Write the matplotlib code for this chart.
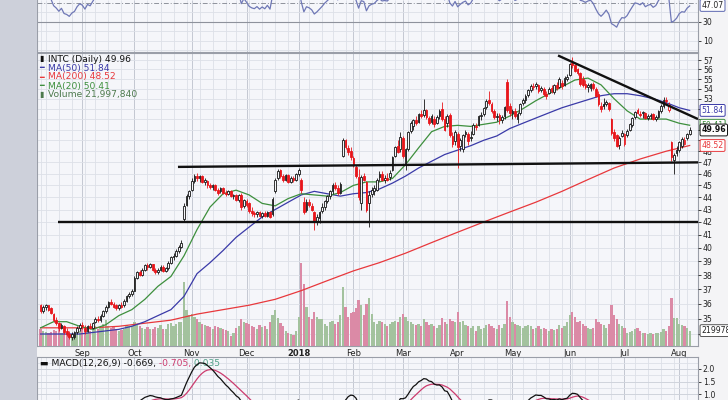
import numpy as np
import pandas as pd
import matplotlib
matplotlib.use("Agg")
import matplotlib.pyplot as plt
from matplotlib.transforms import blended_transform_factory as blend

# ---------------- DATA ----------------
holidays = ["2017-09-04", "2017-11-23", "2017-12-25", "2018-01-01", "2018-01-15",
            "2018-02-19", "2018-03-30", "2018-05-28", "2018-07-04"]
first_day, last_day = "2017-08-10", "2018-08-07"

opens = [
    # Aug 2017
    35.9, 35.5, 35.8, 35.9, 35.7, 35.3, 34.9, 34.7, 34.4, 34.5, 34.2, 34.0, 33.8, 33.8, 34.1, 34.4,
    # Sep
    34.6, 34.4, 34.2, 34.5, 34.4, 34.8, 35.0, 34.9, 35.2, 35.5, 35.8, 36.1, 36.0, 35.9, 35.7, 35.9, 35.9, 36.2, 36.5, 36.7,
    # Oct
    36.9, 37.8, 38.2, 38.0, 38.4, 38.7, 38.6, 38.8, 38.4, 38.2, 38.4, 38.6, 38.3, 38.5, 38.9, 39.3, 39.4, 39.8, 40.1, 42.2, 43.4, 44.1,
    # Nov
    44.6, 45.4, 45.8, 45.6, 45.8, 45.3, 45.4, 45.0, 44.9, 45.0, 44.6, 44.5, 44.8, 44.4, 44.3, 44.5, 44.1, 44.2, 43.8, 44.2, 43.3,
    # Dec
    43.7, 43.5, 42.9, 42.7, 42.6, 42.8, 42.5, 42.7, 42.5, 42.8, 42.6, 44.5, 45.6, 46.3, 45.8, 45.5, 45.9, 45.3, 45.6, 45.5,
    # Jan 2018
    46.0, 45.5, 43.6, 43.0, 43.6, 43.3, 42.8, 42.0, 42.3, 42.9, 43.2, 43.7, 44.1, 44.5, 45.0, 44.8, 44.4, 47.6, 49.0, 48.3, 48.0,
    # Feb
    47.4, 46.6, 45.7, 43.5, 45.8, 45.3, 43.5, 44.3, 44.5, 44.6, 45.7, 46.0, 45.5, 45.6, 45.7, 46.3, 47.6, 48.5, 48.2,
    # Mar
    49.2, 46.9, 48.2, 49.9, 50.3, 50.9, 50.7, 51.5, 51.4, 51.9, 51.1, 50.7, 51.0, 50.6, 51.3, 52.0, 51.0, 50.6, 51.4, 49.4, 48.9,
    # Apr
    49.6, 48.5, 48.2, 49.6, 49.6, 49.2, 49.6, 50.3, 50.4, 51.3, 51.5, 52.2, 52.9, 52.5, 51.8, 51.2, 51.4, 50.9, 51.3, 54.7, 52.3,
    # May
    51.6, 51.8, 51.0, 51.6, 52.6, 52.9, 53.4, 53.9, 54.2, 54.3, 54.4, 53.9, 54.0, 53.5, 53.6, 54.1, 53.7, 54.4, 54.2, 54.6, 54.4, 55.0,
    # Jun
    55.4, 56.7, 56.5, 56.0, 55.6, 55.0, 54.5, 54.2, 54.1, 54.5, 54.0, 53.5, 52.3, 52.5, 52.5, 52.6, 51.0, 49.8, 49.5, 48.6, 49.4,
    # Jul
    48.7, 49.5, 50.0, 50.4, 51.2, 51.9, 51.5, 51.6, 51.6, 51.1, 51.3, 51.5, 51.0, 51.2, 51.8, 52.3, 52.9, 51.9, 48.8, 47.2, 47.8,
    # Aug 2018
    48.1, 48.5, 48.7, 49.2, 49.6,
]
highs = [
    36.0, 35.9, 36.0, 35.9, 35.8, 35.4, 35.1, 34.8, 34.7, 34.6, 34.4, 34.2, 34.1, 34.2, 34.5, 34.7,
    34.8, 34.6, 34.6, 34.7, 34.8, 35.1, 35.2, 35.3, 35.6, 35.9, 36.2, 36.3, 36.1, 36.0, 36.0, 36.1, 36.3, 36.6, 36.8, 37.0,
    37.9, 38.3, 38.4, 38.5, 38.8, 38.9, 38.9, 38.8, 38.5, 38.5, 38.7, 38.7, 38.6, 39.0, 39.4, 39.6, 39.9, 40.2, 40.6, 43.5, 44.3, 44.6,
    45.6, 46.0, 46.1, 45.9, 45.9, 45.6, 45.5, 45.2, 45.1, 45.1, 44.8, 44.9, 44.9, 44.6, 44.6, 44.6, 44.3, 44.3, 44.3, 44.4, 43.9,
    43.9, 43.6, 43.2, 42.9, 42.9, 42.9, 42.8, 42.9, 42.9, 42.9, 44.0, 45.6, 46.4, 46.4, 46.0, 46.0, 46.0, 45.8, 45.8, 46.1,
    46.5, 45.6, 44.0, 43.9, 43.9, 43.5, 42.9, 42.6, 42.9, 43.5, 43.8, 44.2, 44.6, 45.2, 45.3, 45.0, 45.3, 49.2, 49.1, 48.6, 48.4,
    47.6, 46.8, 46.4, 45.9, 46.1, 45.4, 44.5, 44.9, 45.0, 45.6, 46.2, 46.2, 45.9, 46.1, 46.3, 47.6, 48.5, 49.0, 49.8,
    49.4, 48.3, 49.9, 50.8, 51.0, 51.3, 51.6, 51.9, 53.0, 52.0, 51.3, 51.5, 51.3, 51.4, 52.0, 52.7, 51.3, 51.5, 51.6, 49.8, 50.0,
    49.8, 49.2, 49.6, 50.0, 49.8, 49.9, 50.6, 50.6, 51.4, 51.7, 52.2, 53.0, 53.8, 52.7, 52.0, 51.6, 51.6, 51.4, 52.3, 55.0, 52.6,
    52.0, 52.1, 51.7, 52.6, 53.1, 53.5, 54.0, 54.5, 54.6, 54.7, 54.5, 54.3, 54.2, 53.8, 54.2, 54.4, 54.5, 54.7, 55.2, 54.9, 55.3, 55.5,
    56.7, 57.3, 56.6, 56.2, 55.7, 55.3, 54.9, 54.6, 54.6, 54.7, 54.2, 53.8, 52.7, 53.1, 52.9, 52.7, 51.1, 50.1, 49.6, 49.4, 50.0,
    49.7, 50.1, 50.6, 51.2, 51.8, 52.1, 51.8, 51.8, 51.7, 51.5, 51.6, 51.6, 51.4, 51.9, 52.5, 53.2, 53.2, 52.7, 48.9, 47.8, 48.5,
    48.9, 49.3, 49.3, 49.7, 50.2,
]
lows = [
    35.4, 35.4, 35.6, 35.5, 35.3, 34.8, 34.6, 34.2, 34.3, 34.0, 33.9, 33.7, 33.6, 33.7, 34.0, 34.2,
    34.3, 34.0, 34.1, 34.3, 34.3, 34.7, 34.8, 34.8, 35.1, 35.4, 35.7, 35.9, 35.7, 35.6, 35.6, 35.7, 35.8, 36.1, 36.4, 36.5,
    36.9, 37.7, 37.9, 37.9, 38.3, 38.4, 38.5, 38.3, 38.1, 38.1, 38.3, 38.2, 38.2, 38.4, 38.8, 39.1, 39.3, 39.6, 40.0, 42.0, 43.3, 43.9,
    44.5, 45.2, 45.4, 45.3, 45.2, 45.0, 44.8, 44.7, 44.6, 44.5, 44.2, 44.4, 44.3, 44.1, 44.2, 44.0, 43.9, 43.7, 43.6, 43.0, 43.1,
    43.2, 42.7, 42.5, 42.4, 42.4, 42.4, 42.3, 42.4, 42.4, 42.3, 42.5, 44.4, 45.5, 45.6, 45.3, 45.4, 45.2, 45.2, 45.3, 45.4,
    45.8, 44.4, 42.6, 42.8, 43.2, 42.9, 41.4, 41.8, 41.9, 42.7, 43.0, 43.5, 43.9, 44.3, 44.6, 44.2, 44.3, 47.5, 48.2, 47.7, 47.2,
    46.6, 45.6, 43.8, 43.0, 45.4, 42.8, 41.6, 44.0, 44.2, 44.5, 45.4, 45.4, 45.2, 45.4, 45.5, 46.2, 47.5, 47.8, 47.9,
    47.4, 46.3, 48.0, 49.7, 50.0, 50.4, 50.6, 51.1, 51.2, 51.0, 50.4, 50.5, 50.2, 50.5, 51.0, 50.8, 49.9, 50.2, 49.3, 48.4, 48.6,
    46.5, 48.0, 47.9, 49.3, 48.6, 48.9, 49.5, 50.0, 50.3, 50.9, 51.3, 52.0, 52.4, 51.6, 51.0, 50.8, 50.5, 50.6, 51.0, 51.7, 51.3,
    51.0, 51.1, 50.6, 51.4, 52.4, 52.6, 53.2, 53.7, 53.9, 54.0, 53.6, 53.7, 53.3, 53.0, 53.5, 53.6, 53.5, 53.9, 54.1, 54.0, 54.3, 54.8,
    55.3, 56.2, 55.7, 55.4, 54.3, 54.2, 54.0, 53.7, 53.8, 53.9, 53.2, 52.3, 51.7, 52.0, 52.3, 51.8, 49.5, 48.9, 48.4, 48.2, 49.3,
    48.5, 49.3, 49.9, 50.2, 51.0, 51.5, 51.2, 51.1, 51.0, 50.9, 51.0, 50.9, 50.8, 51.1, 51.6, 52.1, 52.5, 51.7, 47.1, 46.0, 47.6,
    47.9, 48.3, 48.6, 49.0, 49.5,
]
closes = [
    35.5, 35.8, 35.9, 35.6, 35.4, 34.9, 34.7, 34.4, 34.6, 34.1, 34.0, 33.8, 34.0, 34.1, 34.4, 34.6,
    34.5, 34.2, 34.5, 34.4, 34.7, 35.0, 34.9, 35.2, 35.5, 35.8, 36.1, 36.0, 35.8, 35.7, 35.9, 35.8, 36.2, 36.5, 36.7, 36.9,
    37.8, 38.2, 38.0, 38.4, 38.7, 38.6, 38.8, 38.4, 38.2, 38.4, 38.6, 38.3, 38.5, 38.9, 39.3, 39.4, 39.8, 40.1, 40.4, 43.3, 44.1, 44.5,
    45.4, 45.8, 45.6, 45.8, 45.3, 45.5, 45.0, 44.9, 45.0, 44.6, 44.4, 44.8, 44.4, 44.3, 44.5, 44.1, 44.2, 43.8, 44.2, 43.2, 43.8,
    43.4, 42.9, 42.7, 42.6, 42.8, 42.5, 42.7, 42.5, 42.8, 42.4, 43.9, 45.5, 46.2, 45.8, 45.5, 45.9, 45.3, 45.6, 45.5, 46.0,
    46.3, 44.6, 42.8, 43.6, 43.4, 43.0, 42.1, 42.4, 42.8, 43.2, 43.7, 44.1, 44.5, 45.0, 44.8, 44.4, 45.1, 49.0, 48.4, 47.9, 47.5,
    46.8, 45.8, 44.0, 45.7, 45.5, 43.0, 44.2, 44.6, 44.8, 45.5, 46.0, 45.5, 45.6, 45.5, 46.1, 47.5, 48.4, 47.9, 49.3,
    47.6, 48.2, 49.8, 50.6, 50.9, 50.6, 51.5, 51.3, 51.9, 51.2, 50.6, 51.3, 50.5, 51.2, 51.8, 51.0, 50.0, 51.3, 49.5, 48.7, 49.8,
    48.4, 49.0, 49.5, 49.8, 48.9, 49.3, 50.4, 50.2, 51.3, 51.4, 52.1, 52.8, 52.6, 51.8, 51.2, 51.3, 50.9, 51.2, 52.2, 51.9, 51.6,
    51.8, 51.3, 51.5, 52.5, 52.9, 53.3, 53.9, 54.3, 54.2, 54.5, 53.8, 54.1, 53.5, 53.3, 54.0, 53.8, 54.4, 54.1, 55.0, 54.3, 55.1, 55.2,
    56.6, 56.5, 55.8, 55.6, 54.5, 54.4, 54.2, 54.4, 54.5, 54.1, 53.3, 52.5, 52.0, 52.3, 52.7, 52.0, 49.7, 49.2, 48.5, 49.2, 49.7,
    49.6, 49.9, 50.5, 51.1, 51.7, 51.6, 51.4, 51.7, 51.1, 51.3, 51.4, 51.0, 51.2, 51.8, 52.3, 52.9, 52.8, 52.4, 47.5, 47.7, 48.1,
    48.8, 49.1, 49.0, 49.6, 49.96,
]
volumes_m = [
    24, 22, 20, 19, 20, 23, 21, 24, 19, 20, 18, 17, 17, 16, 18, 22,
    26, 24, 22, 21, 23, 28, 24, 26, 32, 37, 29, 26, 28, 24, 22, 23, 25, 30, 28, 29,
    34, 32, 28, 26, 25, 27, 25, 24, 27, 26, 30, 25, 24, 31, 33, 29, 32, 35, 34, 91, 51, 44,
    46, 42, 38, 34, 32, 30, 29, 27, 25, 29, 27, 26, 25, 23, 22, 14, 18, 26, 28, 38, 35,
    33, 31, 29, 27, 25, 30, 27, 29, 25, 35, 45, 52, 40, 33, 29, 22, 19, 17, 16, 22,
    42, 118, 89, 56, 42, 38, 48, 42, 38, 39, 32, 29, 34, 36, 32, 34, 44, 84, 56, 42, 47,
    48, 54, 66, 58, 44, 60, 68, 46, 34, 32, 36, 34, 32, 29, 31, 34, 36, 34, 42,
    46, 42, 36, 34, 32, 30, 32, 28, 39, 34, 30, 32, 28, 26, 30, 40, 34, 32, 38, 36, 34,
    48, 34, 36, 30, 28, 26, 29, 22, 28, 24, 26, 30, 32, 28, 26, 24, 30, 26, 32, 64, 42,
    34, 32, 30, 28, 26, 29, 30, 28, 24, 26, 28, 24, 26, 24, 22, 24, 23, 25, 30, 26, 28, 34,
    44, 48, 42, 34, 36, 32, 29, 26, 24, 26, 39, 34, 32, 30, 26, 31, 58, 44, 39, 32, 29,
    26, 18, 20, 22, 24, 26, 22, 18, 19, 17, 18, 17, 19, 18, 20, 24, 22, 28, 69, 40, 40,
    32, 30, 28, 26, 21.99784,
]

# moving averages at every 5th (MA200: 10th) trading day
ma_days = [0, 5, 10, 15, 20, 25, 30, 35, 40, 45, 50, 55, 60, 65, 70, 75, 80, 85, 90, 95,
           100, 105, 110, 115, 120, 125, 130, 135, 140, 145, 150, 155, 160, 165, 170, 175,
           180, 185, 190, 195, 200, 205, 210, 215, 220, 225, 230, 235, 240, 245, 249]
ma20 = [34.4, 34.8, 34.8, 34.5, 34.3, 34.6, 35.2, 35.6, 36.3, 37.2, 37.9, 39.4, 41.4, 43.2, 44.3,
        44.6, 44.2, 43.5, 43.3, 43.9, 44.3, 44.2, 44.1, 44.4, 45.0, 45.3, 45.3, 45.6, 46.8, 48.3,
        49.8, 50.3, 50.4, 50.3, 50.5, 50.7, 51.3, 52.0, 52.8, 53.5, 54.2, 54.9, 55.1, 54.4, 53.0,
        51.8, 51.0, 51.0, 51.0, 50.6, 50.41]
ma50 = [34.0, 34.0, 34.0, 34.0, 34.1, 34.2, 34.3, 34.5, 34.8, 35.2, 35.6, 36.5, 38.1, 38.9, 39.8,
        40.8, 41.6, 42.4, 43.0, 43.6, 44.2, 44.5, 44.3, 44.1, 44.3, 44.4, 44.7, 45.2, 45.8, 46.5,
        47.1, 47.7, 48.1, 48.5, 49.0, 49.4, 50.1, 50.6, 51.1, 51.6, 52.1, 52.5, 52.9, 53.3, 53.5,
        53.5, 53.3, 53.0, 52.6, 52.1, 51.84]
ma200_days = [0, 10, 20, 30, 40, 50, 60, 70, 80, 90, 100, 110, 120, 130, 140, 150, 160, 170,
              180, 190, 200, 210, 220, 230, 240, 249]
ma200 = [34.4, 34.4, 34.4, 34.5, 34.7, 34.9, 35.3, 35.6, 35.9, 36.3, 36.9, 37.6, 38.3, 38.9,
         39.6, 40.4, 41.2, 42.0, 42.8, 43.6, 44.5, 45.5, 46.5, 47.3, 48.0, 48.52]

# hand-drawn trend lines: (day positions, prices)
support_line = ([6.7, 252.2], [42.0, 42.0])
resistance_line = ([52.7, 252.2], [46.6, 47.0])
down_trend_line = ([198.5, 252.2], [57.5, 51.0])

last_close, last_ma50, last_ma200, last_ma20 = 49.96, 51.84, 48.52, 50.41
last_volume = 21997840
last_rsi = 47.07
# RSI(14) Wilder averages in force before the first plotted day (warm-up state)
rsi_seed_gain, rsi_seed_loss = 0.16, 0.12
price_ticks = list(range(34, 58))
hidden_price_labels = [34, 49, 50, 51, 52]   # covered by the value tags in the reference
volume_ticks_m = [25, 50, 75, 100, 125]
macd_ticks = [1.0, 1.5, 2.0]
rsi_ticks = [10, 30]

# ---------------- derived series ----------------
days = pd.bdate_range(first_day, last_day)
days = days[~days.isin(pd.to_datetime(holidays))]
o = np.array(opens); h = np.array(highs); l = np.array(lows); c = np.array(closes)
n = len(c)
xs = np.arange(n)
prev = np.r_[o[0], c[:-1]]
up = c >= prev
hollow = c >= o

cs = pd.Series(c)
macd = cs.ewm(span=12, adjust=False).mean() - cs.ewm(span=26, adjust=False).mean()
signal = macd.ewm(span=9, adjust=False).mean()

rsi = np.empty(n)
ag, al = rsi_seed_gain, rsi_seed_loss
rsi[0] = 100 - 100 / (1 + ag / al)
for k in range(1, n):
    ch = c[k] - c[k - 1]
    ag = (ag * 13 + max(ch, 0)) / 14
    al = (al * 13 + max(-ch, 0)) / 14
    rsi[k] = 100 - 100 / (1 + ag / al)

week_starts = [k for k in range(n) if k == 0 or days[k].weekday() < days[k - 1].weekday()]
month_starts = [k for k in range(1, n) if days[k].month != days[k - 1].month]

# ---------------- drawing ----------------
W, H = 728, 400
plt.rcParams["font.family"] = ["DejaVu Sans"]
fig = plt.figure(figsize=(W / 100, H / 100), dpi=100, facecolor="#f4f4f6")


def box(x0, y0, x1, y1):
    return [x0 / W, 1 - y1 / H, (x1 - x0) / W, (y1 - y0) / H]


def fx(px):
    return px / W


def fy(py):
    return 1 - py / H


fig.patches.append(plt.Rectangle((0, 0), fx(37), 1, transform=fig.transFigure,
                                 facecolor="#cdd0da", edgecolor="none", zorder=0))

PANEL_BG = "#f5f6fa"
GRID = "#dde0e8"
GRID_M = "#c4c8d2"
SPINE = "#9a9ea8"
TXT = "#222222"
XL = (-1.38, 252.2)
BLACK = "#151515"
RED = "#e8161c"
BLUE = "#3a3aa8"
GREEN = "#3d8f3d"
MARED = "#e8383c"
LEG_FS = 6.6

ax_rsi = fig.add_axes(box(37, 0, 698, 51.7))
ax_vol = fig.add_axes(box(37, 53, 698, 346))
ax = ax_vol.twinx()
ax_macd = fig.add_axes(box(37, 357, 698, 400))

for a in (ax_rsi, ax_vol, ax_macd):
    a.set_facecolor(PANEL_BG)
    a.set_xlim(*XL)
    for s in a.spines.values():
        s.set_color(SPINE)
        s.set_linewidth(0.8)
    a.vlines(week_starts, 0, 1, transform=blend(a.transData, a.transAxes),
             colors=GRID, lw=0.6, zorder=0)
    a.vlines(month_starts, 0, 1, transform=blend(a.transData, a.transAxes),
             colors=GRID_M, lw=0.7, zorder=0)
ax.set_xlim(*XL)
for s in ax.spines.values():
    s.set_visible(False)
ax_rsi.spines["top"].set_visible(False)
ax_macd.spines["bottom"].set_visible(False)

# ----- price panel -----
ax.set_yscale("log")
ax.set_ylim(33.24, 57.77)
ax.yaxis.set_major_locator(plt.FixedLocator(price_ticks))
ax.yaxis.set_major_formatter(plt.FixedFormatter(
    ["" if t in hidden_price_labels else str(t) for t in price_ticks]))
ax.yaxis.set_minor_locator(plt.NullLocator())
ax.tick_params(axis="y", which="both", right=True, length=2, width=0.6, pad=1.5,
               labelsize=5.6, colors=TXT)
ax_vol.hlines(price_ticks, 0, 1, transform=blend(ax_vol.transAxes, ax.transData),
              colors=GRID, lw=0.6, zorder=0)

# volume
vol = np.array(volumes_m) * 1e6
ax_vol.set_ylim(0, 25e6 * 293 / 17.5)
ax_vol.bar(xs, vol, width=0.86, color=np.where(up, "#a3c29e", "#db8aa6"),
           edgecolor="none", zorder=1)
ax_vol.yaxis.set_major_locator(plt.FixedLocator([v * 1e6 for v in volume_ticks_m]))
ax_vol.yaxis.set_major_formatter(plt.FixedFormatter([f"{v}M" for v in volume_ticks_m]))
ax_vol.tick_params(axis="y", length=2, width=0.6, pad=1.5, labelsize=5.6, colors=TXT)
ax_vol.set_xticks(month_starts)
ax_vol.set_xticklabels(["2018" if days[k].month == 1 else days[k].strftime("%b")
                        for k in month_starts])
ax_vol.tick_params(axis="x", length=0, pad=2.2, labelsize=6.0, colors=TXT)
for lab, k in zip(ax_vol.get_xticklabels(), month_starts):
    if days[k].month == 1:
        lab.set_fontweight("bold")

# moving averages
ax.plot(ma200_days, ma200, color=MARED, lw=0.9, zorder=3)
ax.plot(ma_days, ma50, color=BLUE, lw=0.9, zorder=3)
ax.plot(ma_days, ma20, color=GREEN, lw=0.9, zorder=3)

# candles
col = np.where(up, BLACK, RED)
ax.vlines(xs, np.minimum(l, np.minimum(o, c)), np.maximum(h, np.maximum(o, c)),
          colors=col, lw=0.6, zorder=4)
body = np.maximum(np.abs(c - o), 0.04)
bottom = np.minimum(o, c)
ax.bar(xs[hollow], body[hollow], bottom=bottom[hollow], width=0.66,
       facecolor=PANEL_BG, edgecolor=col[hollow], lw=0.6, zorder=5)
ax.bar(xs[~hollow], body[~hollow], bottom=bottom[~hollow], width=0.66,
       facecolor=col[~hollow], edgecolor=col[~hollow], lw=0.6, zorder=5)

# trend lines
for xl, yl in (support_line, resistance_line, down_trend_line):
    ax.plot(xl, yl, color="#111111", lw=1.7, zorder=6, solid_capstyle="butt")


def tag(axis, val, text, color, bold=False, tc=None, ycoords="data"):
    axis.annotate(text, xy=(1.0, val),
                  xycoords=("axes fraction", "data") if ycoords == "data" else ycoords,
                  xytext=(2.5, 0), textcoords="offset points", fontsize=5.6,
                  color=tc or color, va="center", ha="left",
                  fontweight="bold" if bold else "normal",
                  bbox=dict(boxstyle="round,pad=0.18", fc="white", ec=color, lw=0.7),
                  annotation_clip=False, zorder=20)


tag(ax, last_ma50, f"{last_ma50:.2f}", BLUE)
tag(ax, last_ma20, f"{last_ma20:.2f}", GREEN)
tag(ax, last_close, f"{last_close:.2f}", "#111111", bold=True)
tag(ax, last_ma200, f"{last_ma200:.2f}", MARED)
tag(ax, last_volume, f"{last_volume}", "#555555", tc=TXT,
    ycoords=blend(ax.transAxes, ax_vol.transData))

# legend
leg = [("INTC (Daily) 49.96", "#111111", "▮"),
       (f"MA(50) {last_ma50:.2f}", BLUE, "━"),
       (f"MA(200) {last_ma200:.2f}", MARED, "━"),
       (f"MA(20) {last_ma20:.2f}", GREEN, "━"),
       ("Volume 21,997,840", "#4d7a4d", "▮")]
for (txt, colr, glyph), py in zip(leg, [59, 68, 77, 86, 94]):
    fig.text(fx(39.5), fy(py), glyph, color=colr, fontsize=5.6, va="center", ha="left")
    fig.text(fx(47.5), fy(py), txt, color=colr, fontsize=LEG_FS, va="center", ha="left")

# ----- RSI panel -----
ax_rsi.set_ylim(-1.6, 52.8)
ax_rsi.hlines([0, 10, 20, 40], *XL, colors=GRID, lw=0.6, zorder=0)
ax_rsi.axhline(30, color="#8e929c", lw=0.8, zorder=1)
ax_rsi.axhline(50, color="#8e929c", lw=0.7, ls=(0, (5, 2, 1, 2)), zorder=1)
ax_rsi.plot(xs, rsi, color="#6f78b6", lw=0.9, zorder=3)
ax_rsi.yaxis.tick_right()
ax_rsi.set_yticks(rsi_ticks)
ax_rsi.set_yticklabels([str(t) for t in rsi_ticks])
ax_rsi.tick_params(axis="y", length=2, width=0.6, pad=1.5, labelsize=5.6, colors=TXT)
ax_rsi.set_xticks([])
tag(ax_rsi, last_rsi, f"{last_rsi:.2f}", "#5b66b0", tc=TXT)

# ----- MACD panel -----
ax_macd.set_ylim(0.76, 2.48)
ax_macd.hlines([1.25, 1.75, 2.25], *XL, colors=GRID, lw=0.6, zorder=0)
ax_macd.hlines(macd_ticks, *XL, colors="#cfd3dc", lw=0.7, zorder=0)
ax_macd.plot(xs, signal, color="#cc3b6e", lw=0.9, zorder=3)
ax_macd.plot(xs, macd, color="#111111", lw=0.9, zorder=4)
ax_macd.yaxis.tick_right()
ax_macd.set_yticks(macd_ticks)
ax_macd.set_yticklabels([f"{t:.1f}" for t in macd_ticks])
ax_macd.tick_params(axis="y", length=2, width=0.6, pad=1.5, labelsize=5.6, colors=TXT)
ax_macd.set_xticks([])

t1 = fig.text(fx(39.5), fy(363.5), "▬ MACD(12,26,9) -0.669,", color="#111111",
              fontsize=LEG_FS, va="center", ha="left")
t2 = ax_macd.annotate(" -0.705,", xy=(1, 0), xycoords=t1, va="bottom", ha="left",
                      fontsize=LEG_FS, color="#cc3b6e", annotation_clip=False)
ax_macd.annotate(" 0.035", xy=(1, 0), xycoords=t2, va="bottom", ha="left",
                 fontsize=LEG_FS, color="#4f9f86", annotation_clip=False)

fig.savefig("out.png", dpi=100, facecolor=fig.get_facecolor())
